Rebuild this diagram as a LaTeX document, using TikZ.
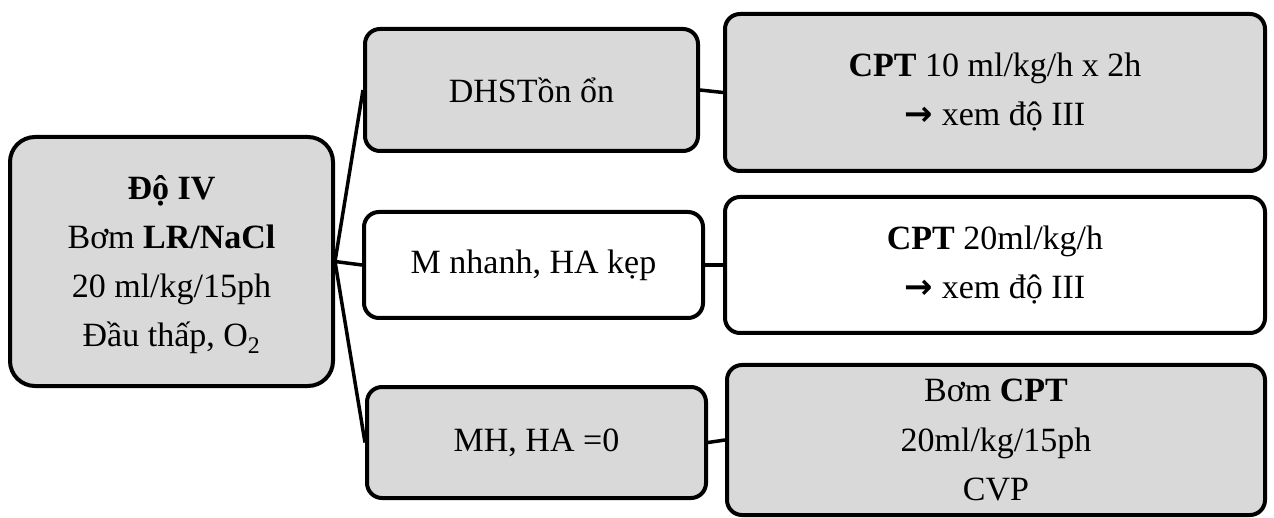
\documentclass[tikz,border=0pt]{standalone}
\usepackage{fontspec}
\setmainfont{Liberation Serif}
\newfontfamily\arrowfont{DejaVu Sans}
\newcommand{\rarr}{{\arrowfont\bfseries →}}
\definecolor{boxgray}{HTML}{D9D9D9}
\begin{document}
\begin{tikzpicture}[x=1pt,y=-1pt,
  box/.style={draw=black, line width=4pt, rounded corners=15pt, align=center,
    inner sep=0pt, font=\fontsize{34}{49}\selectfont},
  gbox/.style={box, fill=boxgray},
  wbox/.style={box, fill=white},
  link/.style={line width=3.5pt}]
\useasboundingbox (0,0) rectangle (1274,518);
% left
\node[gbox, rounded corners=25pt, minimum width=323pt, minimum height=249pt] (L) at (171.5,261.5)
  {\rule{0pt}{30pt}\textbf{Độ IV}\\Bơm \textbf{LR/NaCl}\\20 ml/kg/15ph\\Đầu thấp, O\textsubscript{2}};
% middle column
\node[gbox, minimum width=333pt, minimum height=122pt] (A) at (531.5,90) {DHSTồn ổn};
\node[wbox, minimum width=339pt, minimum height=106pt] (B) at (533.5,265) {M nhanh, HA kẹp};
\node[gbox, minimum width=339pt, minimum height=111pt] (C) at (536.5,442.5) {MH, HA =0};
% right column
\node[gbox, minimum width=540pt, minimum height=157pt] (RA) at (995,92.5)
  {\textbf{CPT} 10 ml/kg/h x 2h\\\rarr{} xem độ III};
\node[wbox, minimum width=540pt, minimum height=136pt] (RB) at (995,265)
  {\textbf{CPT} 20ml/kg/h\\\rarr{} xem độ III};
\node[gbox, minimum width=538pt, minimum height=150pt] (RC) at (996,440)
  {Bơm \textbf{CPT}\\20ml/kg/15ph\\CVP};
% connectors
\draw[link] (L.east) -- (A.west);
\draw[link] (L.east) -- (B.west);
\draw[link] (L.east) -- (C.west);
\draw[link] (A.east) -- (RA.west);
\draw[link] (B.east) -- (RB.west);
\draw[link] (C.east) -- (RC.west);
\end{tikzpicture}
\end{document}
